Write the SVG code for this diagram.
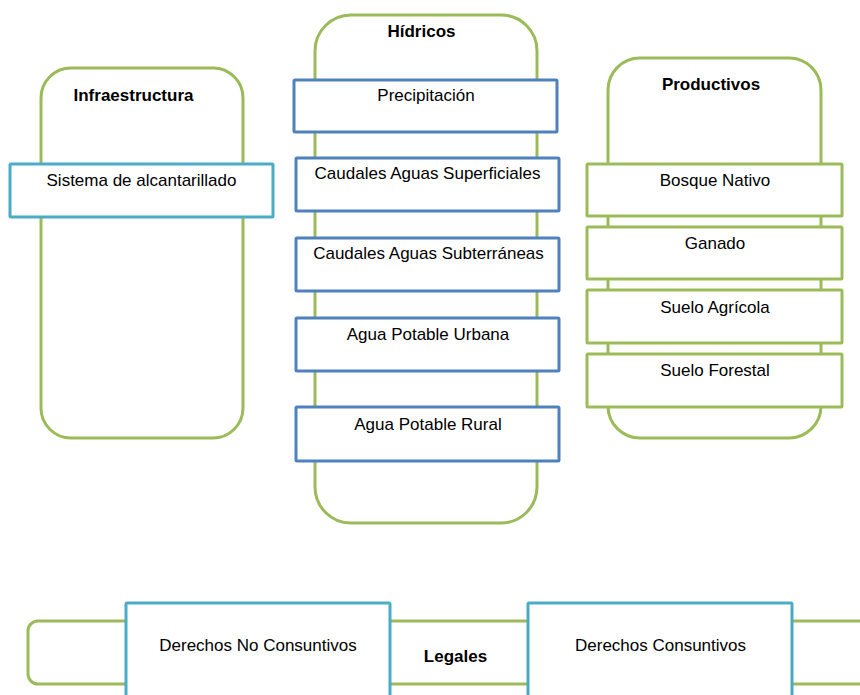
<svg xmlns="http://www.w3.org/2000/svg" width="860" height="695" viewBox="0 0 860 695">
<style>
.grp{fill:#ffffff;stroke:#9bbb59;stroke-width:3}
.bx{fill:#ffffff;stroke-width:3}
.blue{stroke:#4f81bd}
.teal{stroke:#4bacc6}
.green{stroke:#9bbb59}
text{font-family:"Liberation Sans",Arial,sans-serif;font-size:17px;fill:#000000;text-anchor:middle}
.t{font-weight:bold;font-size:17px}
</style>
<rect width="860" height="695" fill="#ffffff"/>
<g id="infraestructura">
<rect class="grp" x="41" y="68" width="202" height="370" rx="30"/>
<text class="t" x="133.5" y="101">Infraestructura</text>
</g>
<g id="hidricos">
<rect class="grp" x="315" y="15" width="222" height="508" rx="36"/>
<text class="t" x="421.5" y="37">Hídricos</text>
</g>
<g id="productivos">
<rect class="grp" x="608" y="58" width="213" height="380" rx="32"/>
<text class="t" x="711" y="90">Productivos</text>
</g>
<g id="legales">
<rect class="grp" x="28" y="621" width="860" height="63" rx="10"/>
<text class="t" x="455.5" y="662">Legales</text>
</g>
<g id="sistema-alcantarillado">
<rect class="bx teal" x="10" y="164" width="263" height="53" rx="1"/>
<text x="141.5" y="186">Sistema de alcantarillado</text>
</g>
<g id="precipitacion">
<rect class="bx blue" x="294" y="80" width="263" height="52" rx="1"/>
<text x="426" y="101">Precipitación</text>
</g>
<g id="caudales-superficiales">
<rect class="bx blue" x="296" y="158" width="263" height="53" rx="1"/>
<text x="427.5" y="179">Caudales Aguas Superficiales</text>
</g>
<g id="caudales-subterraneas">
<rect class="bx blue" x="296" y="238" width="263" height="53" rx="1"/>
<text x="428.5" y="259">Caudales Aguas Subterráneas</text>
</g>
<g id="agua-potable-urbana">
<rect class="bx blue" x="296" y="318" width="263" height="53" rx="1"/>
<text x="428" y="340">Agua Potable Urbana</text>
</g>
<g id="agua-potable-rural">
<rect class="bx blue" x="296" y="407" width="263" height="54" rx="1"/>
<text x="428" y="430">Agua Potable Rural</text>
</g>
<g id="bosque-nativo">
<rect class="bx green" x="587" y="164" width="255" height="52" rx="1"/>
<text x="715" y="186">Bosque Nativo</text>
</g>
<g id="ganado">
<rect class="bx green" x="587" y="227" width="255" height="52" rx="1"/>
<text x="715" y="249">Ganado</text>
</g>
<g id="suelo-agricola">
<rect class="bx green" x="587" y="290" width="255" height="53" rx="1"/>
<text x="715" y="313">Suelo Agrícola</text>
</g>
<g id="suelo-forestal">
<rect class="bx green" x="587" y="354" width="255" height="53" rx="1"/>
<text x="715" y="376">Suelo Forestal</text>
</g>
<g id="derechos-no-consuntivos">
<rect class="bx teal" x="126" y="603" width="264" height="120" rx="1"/>
<text x="258" y="651">Derechos No Consuntivos</text>
</g>
<g id="derechos-consuntivos">
<rect class="bx teal" x="528" y="603" width="264" height="120" rx="1"/>
<text x="660.5" y="651">Derechos Consuntivos</text>
</g>
<g id="connectors"/>
</svg>
